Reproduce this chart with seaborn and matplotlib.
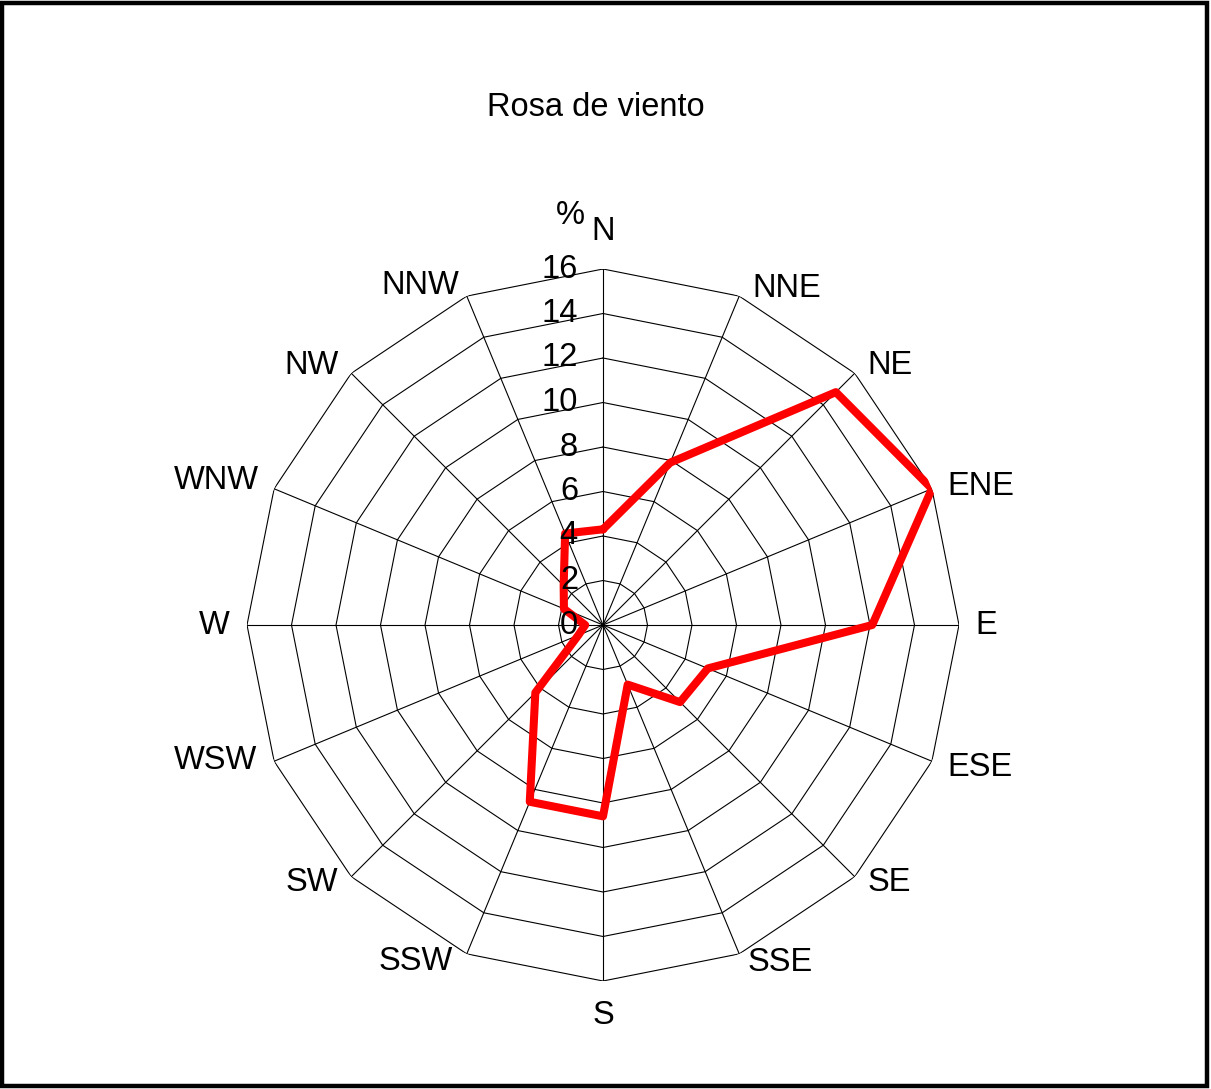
import numpy as np
import pandas as pd
import matplotlib
matplotlib.use("Agg")
import matplotlib.pyplot as plt
import seaborn as sns
from matplotlib.patches import Rectangle

# ---- data ----
directions = ["N", "NNE", "NE", "ENE", "E", "ESE", "SE", "SSE",
              "S", "SSW", "SW", "WSW", "W", "WNW", "NW", "NNW"]
frequency = [4.3, 7.9, 14.8, 16.0, 12.1, 5.1, 4.9, 2.9,
             8.6, 8.6, 4.3, 1.2, 0.8, 1.9, 2.5, 4.45]
ring_values = [2, 4, 6, 8, 10, 12, 14, 16]
tick_labels = ["0", "2", "4", "6", "8", "10", "12", "14", "16"]
title = "Rosa de viento"
unit_label = "%"

sns.set_style("white")
plt.rcParams["font.family"] = ["Liberation Sans", "DejaVu Sans"]
plt.rcParams["text.color"] = "black"

FS = 23.5
W, H = 1211, 1089
fig = plt.figure(figsize=(W / 100, H / 100), dpi=100)
cx, cy, R = 603, 625, 356
ax = fig.add_axes([(cx - R) / W, (H - cy - R) / H, 2 * R / W, 2 * R / H], polar=True)
ax.set_theta_zero_location("N")
ax.set_theta_direction(-1)
ax.set_ylim(0, 16)
ax.grid(False)
ax.spines["polar"].set_visible(False)
ax.set_xticks([])
ax.set_yticks([])
ax.patch.set_alpha(0)

n = len(directions)
theta = np.arange(n) * 2 * np.pi / n
theta_closed = np.append(theta, theta[0])

# polygon grid
for rv in ring_values:
    ax.plot(theta_closed, [rv] * (n + 1), color="black", lw=0.8, zorder=1)
for t in theta:
    ax.plot([t, t], [0, 16], color="black", lw=0.8, zorder=1)

# data line
df = pd.DataFrame({"theta": theta_closed,
                   "freq": list(frequency) + [frequency[0]]})
sns.lineplot(data=df, x="theta", y="freq", ax=ax, sort=False, estimator=None,
             color="#ff0000", lw=5.8, zorder=3)
ax.set_xlabel("")
ax.set_ylabel("")
ax.set_ylim(0, 16)

# radial tick labels
for i, lab in enumerate(tick_labels):
    ax.annotate(lab, xy=(0, 2 * i), xytext=(-18, 0), textcoords="offset points",
                ha="right", va="center", fontsize=FS, color="black", zorder=4)

# direction labels (offsets in pixels)
px = 0.72
offsets = {
    "N": (0, 38, "center"), "NNE": (13, 8, "left"), "NE": (13, 8, "left"),
    "ENE": (15, 2, "left"), "E": (16, 0, "left"), "ESE": (15, -6, "left"),
    "SE": (13, -6, "left"), "SSE": (8, -9, "left"), "S": (0, -34, "center"),
    "SSW": (-14, -8, "right"), "SW": (-13, -6, "right"), "WSW": (-17, 1, "right"),
    "W": (-17, 0, "right"), "WNW": (-15, 8, "right"), "NW": (-13, 8, "right"),
    "NNW": (-8, 11, "right"),
}
for t, d in zip(theta, directions):
    dx, dy, ha = offsets[d]
    ax.annotate(d, xy=(t, 16), xytext=(dx * px, dy * px), textcoords="offset points",
                ha=ha, va="center", fontsize=FS, color="black")

fig.text(570 / W, 1 - 216 / H, unit_label, ha="center", va="center", fontsize=FS, color="black")
fig.text(596 / W, 1 - 107 / H, title, ha="center", va="center", fontsize=FS, color="black")

fig.patches.append(Rectangle((0.002, 0.003), 0.995, 0.994, transform=fig.transFigure,
                             fill=False, lw=3.2, edgecolor="black"))

fig.savefig("out.png", dpi=100, facecolor="white")
